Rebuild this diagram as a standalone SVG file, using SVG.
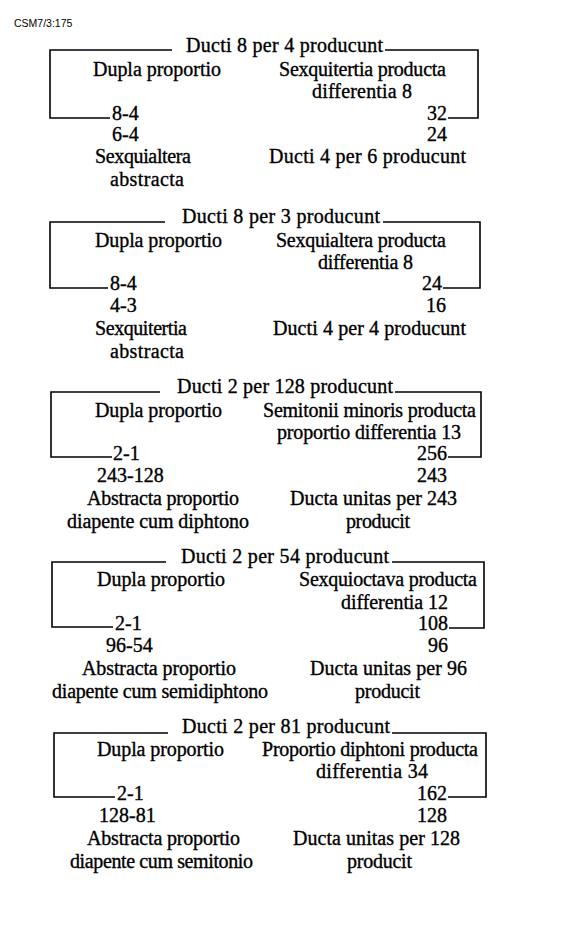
<svg xmlns="http://www.w3.org/2000/svg" width="576" height="936" viewBox="0 0 576 936">
<style>
text{font-family:"Liberation Serif","Times New Roman",serif;font-size:20px;fill:#000;stroke:#000;stroke-width:0.35}
.ref{font-family:"Liberation Sans",Arial,sans-serif;font-size:10.5px;stroke:none}
.br{fill:none;stroke:#000;stroke-width:1.6}
</style>
<rect width="576" height="936" fill="#fff"/>
<text class="ref" x="14" y="27">CSM7/3:175</text>
<g id="connectors">
<polyline class="br" points="172,50 50,50 50,118 110,118"/>
<polyline class="br" points="385,50 478,50 478,118 448,118"/>
<polyline class="br" points="165,222 50,222 50,288 108,288"/>
<polyline class="br" points="383,222 480,222 480,288 443,288"/>
<polyline class="br" points="160,392 51,392 51,457 112,457"/>
<polyline class="br" points="395,392 481,392 481,457 448,457"/>
<polyline class="br" points="166,562 52,562 52,627 113,627"/>
<polyline class="br" points="392,562 484,562 484,628 449,628"/>
<polyline class="br" points="168,733 54,733 54,797 115,797"/>
<polyline class="br" points="392,733 486,733 486,797 448,797"/>
</g>
<g id="block1">
<text x="186" y="52" textLength="197" lengthAdjust="spacing">Ducti 8 per 4 producunt</text>
<text x="93" y="76" textLength="128" lengthAdjust="spacing">Dupla proportio</text>
<text x="279" y="76" textLength="167" lengthAdjust="spacing">Sexquitertia producta</text>
<text x="312" y="98" textLength="100" lengthAdjust="spacing">differentia 8</text>
<text x="112" y="120">8-4</text>
<text x="447" y="120" text-anchor="end">32</text>
<text x="112" y="141">6-4</text>
<text x="447" y="141" text-anchor="end">24</text>
<text x="95" y="163" textLength="96" lengthAdjust="spacing">Sexquialtera</text>
<text x="110" y="186" textLength="74" lengthAdjust="spacing">abstracta</text>
<text x="269" y="163" textLength="197" lengthAdjust="spacing">Ducti 4 per 6 producunt</text>
</g>
<g id="block2">
<text x="182" y="223" textLength="198" lengthAdjust="spacing">Ducti 8 per 3 producunt</text>
<text x="95" y="247" textLength="127" lengthAdjust="spacing">Dupla proportio</text>
<text x="276" y="247" textLength="170" lengthAdjust="spacing">Sexquialtera producta</text>
<text x="318" y="269" textLength="95" lengthAdjust="spacing">differentia 8</text>
<text x="110" y="290">8-4</text>
<text x="442" y="290" text-anchor="end">24</text>
<text x="110" y="312">4-3</text>
<text x="446" y="312" text-anchor="end">16</text>
<text x="95" y="335" textLength="92" lengthAdjust="spacing">Sexquitertia</text>
<text x="110" y="358" textLength="74" lengthAdjust="spacing">abstracta</text>
<text x="273" y="335" textLength="193" lengthAdjust="spacing">Ducti 4 per 4 producunt</text>
</g>
<g id="block3">
<text x="177" y="393" textLength="216" lengthAdjust="spacing">Ducti 2 per 128 producunt</text>
<text x="95" y="417" textLength="127" lengthAdjust="spacing">Dupla proportio</text>
<text x="263" y="417" textLength="213" lengthAdjust="spacing">Semitonii minoris producta</text>
<text x="277" y="439" textLength="184" lengthAdjust="spacing">proportio differentia 13</text>
<text x="113" y="460">2-1</text>
<text x="447" y="460" text-anchor="end">256</text>
<text x="97" y="482">243-128</text>
<text x="447" y="482" text-anchor="end">243</text>
<text x="87" y="505" textLength="152" lengthAdjust="spacing">Abstracta proportio</text>
<text x="290" y="505" textLength="167" lengthAdjust="spacing">Ducta unitas per 243</text>
<text x="67" y="528" textLength="182" lengthAdjust="spacing">diapente cum diphtono</text>
<text x="346" y="528" textLength="64" lengthAdjust="spacing">producit</text>
</g>
<g id="block4">
<text x="181" y="563" textLength="208" lengthAdjust="spacing">Ducti 2 per 54 producunt</text>
<text x="97" y="586" textLength="128" lengthAdjust="spacing">Dupla proportio</text>
<text x="299" y="586" textLength="178" lengthAdjust="spacing">Sexquioctava producta</text>
<text x="341" y="609" textLength="107" lengthAdjust="spacing">differentia 12</text>
<text x="115" y="630">2-1</text>
<text x="448" y="630" text-anchor="end">108</text>
<text x="106" y="652">96-54</text>
<text x="448" y="652" text-anchor="end">96</text>
<text x="82" y="675" textLength="154" lengthAdjust="spacing">Abstracta proportio</text>
<text x="310" y="675" textLength="157" lengthAdjust="spacing">Ducta unitas per 96</text>
<text x="52" y="698" textLength="216" lengthAdjust="spacing">diapente cum semidiphtono</text>
<text x="355" y="698" textLength="65" lengthAdjust="spacing">producit</text>
</g>
<g id="block5">
<text x="182" y="733" textLength="208" lengthAdjust="spacing">Ducti 2 per 81 producunt</text>
<text x="97" y="756" textLength="127" lengthAdjust="spacing">Dupla proportio</text>
<text x="262" y="756" textLength="216" lengthAdjust="spacing">Proportio diphtoni producta</text>
<text x="316" y="778" textLength="112" lengthAdjust="spacing">differentia 34</text>
<text x="117" y="800">2-1</text>
<text x="447" y="800" text-anchor="end">162</text>
<text x="99" y="822">128-81</text>
<text x="447" y="822" text-anchor="end">128</text>
<text x="87" y="845" textLength="153" lengthAdjust="spacing">Abstracta proportio</text>
<text x="293" y="845" textLength="167" lengthAdjust="spacing">Ducta unitas per 128</text>
<text x="70" y="868" textLength="183" lengthAdjust="spacing">diapente cum semitonio</text>
<text x="347" y="868" textLength="65" lengthAdjust="spacing">producit</text>
</g>
</svg>
